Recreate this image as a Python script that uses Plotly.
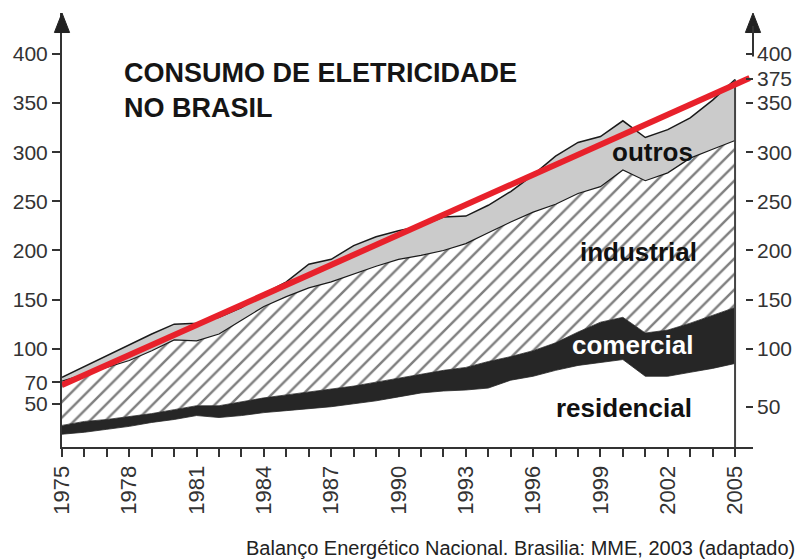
"""
Consumo de eletricidade no Brasil - áreas empilhadas (1975-2005)
"""

import plotly.graph_objects as go

# Dados (TWh aprox.)
anos = list(range(1975, 2006))
residencial = [13, 15, 18, 21, 25, 28, 32, 30, 32, 35, 37, 39, 41, 44, 47, 51,
               55, 57, 58, 60, 68, 72, 78, 83, 86, 89, 72, 72, 76, 80, 85]
comercial = [9, 11, 10, 10, 9, 10, 10, 12, 14, 15, 16, 17, 18, 18, 19, 19,
             19, 21, 23, 27, 24, 26, 28, 34, 41, 43, 44, 47, 50, 54, 57]
industrial = [45, 48, 53, 57, 64, 71, 66, 73, 83, 93, 100, 106, 109, 114, 118, 121,
              121, 122, 126, 131, 137, 141, 141, 141, 138, 150, 155, 160, 168, 169, 170]
outros = [4, 8, 12, 16, 17, 16, 18, 17, 13, 13, 15, 24, 23, 29, 30, 29,
          30, 34, 28, 28, 31, 38, 49, 52, 51, 50, 44, 44, 41, 50, 62]

# Linha de tendência (vermelha)
tendencia_x = [1975, 2005.65]
tendencia_y = [63, 375.5]

# rótulos dos eixos, na posição em que aparecem no original
ticks_esq_pos = [44, 66, 100, 150, 200, 250, 300, 350, 400]
ticks_esq_txt = ["50", "70", "100", "150", "200", "250", "300", "350", "400"]
ticks_dir_pos = [41, 100, 150, 200, 250, 300, 350, 375, 400]
ticks_dir_txt = ["50", "100", "150", "200", "250", "300", "350", "375", "400"]
anos_rotulo = [a if (a - 1975) % 3 == 0 else "" for a in anos]

FONTE = "Liberation Sans, Arial, sans-serif"
EIXO = "#333333"

fig = go.Figure()

fig.add_trace(go.Scatter(
    x=anos, y=residencial, stackgroup="s", mode="lines",
    line=dict(color="#262626", width=0.8), fillcolor="rgba(0,0,0,0)",
))
fig.add_trace(go.Scatter(
    x=anos, y=comercial, stackgroup="s", mode="lines",
    line=dict(color="#262626", width=0.8), fillcolor="#262626",
))
fig.add_trace(go.Scatter(
    x=anos, y=industrial, stackgroup="s", mode="lines",
    line=dict(color="#1a1a1a", width=1.2), fillcolor="white",
    fillpattern=dict(shape="/", fgcolor="#000000", bgcolor="white", size=11, solidity=0.22),
))
fig.add_trace(go.Scatter(
    x=anos, y=outros, stackgroup="s", mode="lines",
    line=dict(color="#1a1a1a", width=1.5), fillcolor="#cbcbcb",
))

# borda direita da área (2005)
total_final = residencial[-1] + comercial[-1] + industrial[-1] + outros[-1]
fig.add_trace(go.Scatter(
    x=[anos[-1], anos[-1]], y=[0, total_final], mode="lines",
    line=dict(color="#444444", width=2),
))

fig.add_trace(go.Scatter(
    x=tendencia_x, y=tendencia_y, mode="lines",
    line=dict(color="#e8212b", width=6), cliponaxis=False,
))

fig.update_layout(
    width=799, height=559,
    margin=dict(l=62, r=46, t=13, b=112),
    paper_bgcolor="white", plot_bgcolor="white",
    showlegend=False,
    font=dict(family=FONTE, color=EIXO),
    xaxis=dict(
        range=[1975, 2005.8], tickvals=anos, ticktext=anos_rotulo, automargin=False,
        tickangle=-90, ticks="outside", ticklen=8, tickwidth=2, tickcolor=EIXO,
        showline=True, linecolor=EIXO, linewidth=2, showgrid=False, zeroline=False,
        tickfont=dict(size=22, color=EIXO),
    ),
    yaxis=dict(
        range=[0, 441.7], tickvals=ticks_esq_pos, ticktext=ticks_esq_txt, automargin=False,
        ticks="outside", ticklen=8, tickwidth=2, tickcolor=EIXO,
        showline=True, linecolor=EIXO, linewidth=2, showgrid=False, zeroline=False,
        tickfont=dict(size=21, color=EIXO),
    ),
    yaxis2=dict(
        range=[0, 441.7], tickvals=ticks_dir_pos, ticktext=ticks_dir_txt,
        overlaying="y", side="right", automargin=False,
        ticks="inside", ticklen=7, tickwidth=2, tickcolor=EIXO, ticklabelstandoff=3,
        showline=False, showgrid=False, zeroline=False,
        tickfont=dict(size=21, color=EIXO),
    ),
)
# traço invisível para ativar o eixo direito
fig.add_trace(go.Scatter(x=[anos[0]], y=[0], yaxis="y2", mode="markers",
                         marker=dict(opacity=0), hoverinfo="skip"))

# setas dos eixos verticais
for xp in (0, 1):
    fig.add_shape(type="path", xref="paper", yref="paper",
                  path=f"M {xp - 0.011} 0.955 L {xp} 1.0 L {xp + 0.011} 0.955 Z",
                  fillcolor="#222222", line=dict(color="#222222", width=1))
fig.add_shape(type="line", xref="paper", yref="paper", x0=1, x1=1, y0=0.9, y1=0.97,
              line=dict(color=EIXO, width=2))

fig.add_annotation(
    text="<b>CONSUMO DE ELETRICIDADE<br>NO BRASIL</b>",
    xref="paper", yref="paper", x=0.087, y=0.9, xanchor="left", yanchor="top",
    align="left", showarrow=False, font=dict(size=27, color="#151515", family=FONTE),
)

rotulos = [
    ("outros", 2001.3, 300, "#111111"),
    ("industrial", 2000.7, 198, "#111111"),
    ("comercial", 2000.45, 104, "white"),
    ("residencial", 2000.05, 40, "#111111"),
]
for txt, xv, yv, cor in rotulos:
    fig.add_annotation(text=f"<b>{txt}</b>", x=xv, y=yv, xref="x", yref="y",
                       showarrow=False, font=dict(size=26, color=cor, family=FONTE))

fig.add_annotation(
    text="Balanço Energético Nacional. Brasilia: MME, 2003 (adaptado)",
    xref="paper", yref="paper", x=1.064, y=-0.233, xanchor="right", yanchor="middle",
    showarrow=False, font=dict(size=20, color="#222222", family=FONTE),
)

# a página tem margem padrão de 8px; removê-la para alinhar com o original
fig.write_html("out.html", config={"displayModeBar": False},
               post_script="document.body.style.margin='0';")
